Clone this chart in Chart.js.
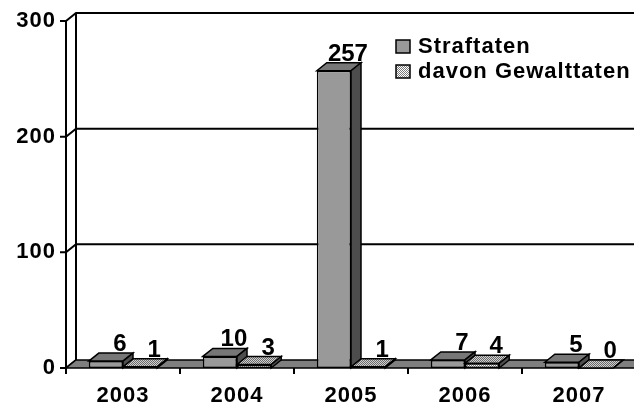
<!DOCTYPE html>
<html>
<head>
<meta charset="utf-8">
<script src="https://cdn.jsdelivr.net/npm/chart.js@4"></script>
<style>
  html, body { margin: 0; padding: 0; background: #fff; overflow: hidden; }
  #c { display: block; }
</style>
</head>
<body>
<canvas id="c" width="636" height="407"></canvas>
<script>
// Chart data
var years = ['2003', '2004', '2005', '2006', '2007'];
var straftaten = [6, 10, 257, 7, 5];
var gewalttaten = [1, 3, 1, 4, 0];
var yTicks = [0, 100, 200, 300];
var seriesNames = ['Straftaten', 'davon Gewalttaten'];

// depth of the fake 3D effect
var DX = 10, DY = 8;
var FONT = '"Liberation Sans", Arial, sans-serif';

// dotted fill for the second series
function makePattern(bg, dot) {
    var p = document.createElement('canvas');
    p.width = 2; p.height = 2;
    var c = p.getContext('2d');
    c.fillStyle = bg;
    c.fillRect(0, 0, 2, 2);
    c.fillStyle = dot;
    c.fillRect(0, 0, 1, 1);
    c.fillRect(1, 1, 1, 1);
    return c.createPattern(p, 'repeat');
}
var dotFront = makePattern('#ffffff', '#7a7a7a');
var dotTop = makePattern('#d0d0d0', '#6a6a6a');

function poly(ctx, pts, fill) {
    ctx.beginPath();
    ctx.moveTo(pts[0][0], pts[0][1]);
    for (var i = 1; i < pts.length; i++) ctx.lineTo(pts[i][0], pts[i][1]);
    ctx.closePath();
    ctx.fillStyle = fill;
    ctx.fill();
    ctx.stroke();
}

// top and side faces of one dataset's bars
function drawFaces(ctx, meta, ds) {
    ctx.save();
    ctx.strokeStyle = '#000';
    ctx.lineWidth = 1.5;
    meta.data.forEach(function(el) {
        var l = el.x - el.width / 2, r = el.x + el.width / 2;
        poly(ctx, [[l, el.y], [l + DX, el.y - DY], [r + DX, el.y - DY], [r, el.y]], ds.topColor);
        poly(ctx, [[r, el.y], [r + DX, el.y - DY], [r + DX, el.base - DY], [r, el.base]], ds.sideColor);
    });
    ctx.restore();
}

// walls, gridlines and floor behind the bars, 3D faces and labels on top
var wallPlugin = {
    id: 'walls',
    beforeDraw: function(chart) {
        chart.ctx.letterSpacing = '1px';
    },
    beforeDatasetsDraw: function(chart) {
        var ctx = chart.ctx, a = chart.chartArea, ys = chart.scales.y, xs = chart.scales.x;
        ctx.save();
        ctx.strokeStyle = '#000';
        ctx.lineWidth = 2;
        var base = ys.getPixelForValue(0);
        var topY = ys.getPixelForValue(yTicks[yTicks.length - 1]);
        // front and back edges of the left wall
        ctx.beginPath();
        ctx.moveTo(a.left, topY);
        ctx.lineTo(a.left, base + 6);
        ctx.moveTo(a.left + DX, topY - DY);
        ctx.lineTo(a.left + DX, base - DY);
        ctx.stroke();
        yTicks.forEach(function(v) {
            var y = ys.getPixelForValue(v);
            ctx.beginPath();
            ctx.moveTo(a.left - 6, y);
            ctx.lineTo(a.left, y);
            ctx.lineTo(a.left + DX, y - DY);
            if (v > 0) ctx.lineTo(a.right + DX, y - DY);
            ctx.stroke();
        });
        // floor
        ctx.lineWidth = 1.5;
        poly(ctx, [[a.left, base], [a.right, base], [a.right + DX, base - DY], [a.left + DX, base - DY]], '#7f7f7f');
        // category ticks
        ctx.lineWidth = 2;
        ctx.beginPath();
        for (var i = 0; i < years.length - 1; i++) {
            var x = (xs.getPixelForTick(i) + xs.getPixelForTick(i + 1)) / 2;
            ctx.moveTo(x, base);
            ctx.lineTo(x, base + 6);
        }
        ctx.stroke();
        ctx.restore();
    },
    afterDatasetsDraw: function(chart) {
        var ctx = chart.ctx;
        var m0 = chart.getDatasetMeta(0), m1 = chart.getDatasetMeta(1);
        // painter's order: first series faces, then second series over them
        drawFaces(ctx, m0, chart.data.datasets[0]);
        m1.data.forEach(function(el) { el.draw(ctx, chart.chartArea); });
        drawFaces(ctx, m1, chart.data.datasets[1]);

        ctx.save();
        ctx.letterSpacing = '0px';
        ctx.fillStyle = '#000';
        ctx.font = 'bold 24px ' + FONT;
        ctx.textAlign = 'center';
        ctx.textBaseline = 'alphabetic';
        chart.data.datasets.forEach(function(ds, i) {
            chart.getDatasetMeta(i).data.forEach(function(el, j) {
                ctx.fillText(String(ds.data[j]), el.x + DX + 4, el.y - DY - 2);
            });
        });
        // legend
        var lx = 396, ly = [40, 65];
        ctx.letterSpacing = '1px';
        ctx.font = 'bold 22px ' + FONT;
        ctx.textAlign = 'left';
        ctx.textBaseline = 'middle';
        ctx.strokeStyle = '#000';
        ctx.lineWidth = 1.5;
        chart.data.datasets.forEach(function(ds, i) {
            ctx.fillStyle = ds.backgroundColor;
            ctx.fillRect(lx, ly[i], 14, 13);
            ctx.strokeRect(lx, ly[i], 14, 13);
            ctx.fillStyle = '#000';
            ctx.fillText(ds.label, lx + 22, ly[i] + 7);
        });
        ctx.restore();
    }
};

var chart = new Chart(document.getElementById('c'), {
    type: 'bar',
    data: {
        labels: years,
        datasets: [{
            label: seriesNames[0],
            data: straftaten,
            backgroundColor: '#999999',
            topColor: '#777777',
            sideColor: '#4d4d4d',
            borderColor: '#000',
            borderWidth: 1.5,
            borderSkipped: false
        }, {
            label: seriesNames[1],
            data: gewalttaten,
            backgroundColor: dotFront,
            topColor: dotTop,
            sideColor: '#4d4d4d',
            borderColor: '#000',
            borderWidth: 1.5,
            borderSkipped: false
        }]
    },
    options: {
        responsive: false,
        animation: false,
        devicePixelRatio: 1,
        categoryPercentage: 0.6,
        barPercentage: 1,
        layout: { padding: { top: 21, left: 0, right: 0, bottom: 0 } },
        plugins: {
            legend: { display: false },
            tooltip: { enabled: false }
        },
        scales: {
            x: {
                grid: { display: false },
                border: { display: false },
                ticks: {
                    color: '#000',
                    padding: 7,
                    font: { family: FONT, size: 22, weight: 'bold' }
                },
                afterFit: function(s) { s.height = 39; }
            },
            y: {
                min: 0,
                max: 300,
                grid: { display: false },
                border: { display: false },
                ticks: {
                    stepSize: 100,
                    color: '#000',
                    padding: 2,
                    font: { family: FONT, size: 22, weight: 'bold' }
                },
                afterFit: function(s) { s.width = 66; }
            }
        }
    },
    plugins: [wallPlugin]
});
</script>
</body>
</html>
